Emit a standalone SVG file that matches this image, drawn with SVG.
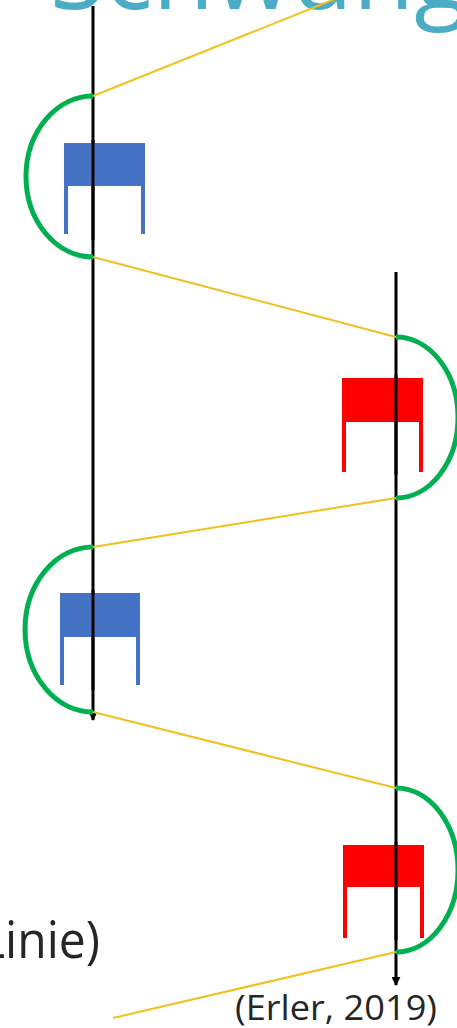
<svg xmlns="http://www.w3.org/2000/svg" width="457" height="1028" viewBox="0 0 457 1028">
<defs>
<style>
.pole{stroke:#000;stroke-width:3;fill:none}
.arc{stroke:#00b050;stroke-width:5;fill:none}
.path{stroke:#f2c01e;stroke-width:2;fill:none}
.blue{fill:#4472c4}
.red{fill:#ff0000}
.txt{font-family:"Open Sans","Liberation Sans",sans-serif;fill:#262626}
</style>
<marker id="ah" viewBox="0 0 10 10" refX="9" refY="5" markerWidth="3" markerHeight="3" orient="auto">
<path d="M0,0 L10,5 L0,10 z" fill="#000"/>
</marker>
</defs>
<rect width="457" height="1028" fill="#fff"/>
<text x="50" y="9" font-family="'Open Sans','Liberation Sans',sans-serif" font-size="100" fill="#4bacc6">Schwung</text>
<g id="poles">
<line class="pole" x1="93" y1="6" x2="93" y2="720" marker-end="url(#ah)"/>
<line class="pole" x1="396" y1="272" x2="396" y2="985" marker-end="url(#ah)"/>
</g>
<g id="arcs">
<path class="arc" d="M93,96 A67,80.5 0 0 0 93,257"/>
<path class="arc" d="M396,337 A62,80.5 0 0 1 396,498"/>
<path class="arc" d="M93,547 A68,82.5 0 0 0 93,712"/>
<path class="arc" d="M396,788 A62,82 0 0 1 396,952"/>
</g>
<g id="connectors">
<line class="path" x1="93" y1="96" x2="345" y2="-5"/>
<line class="path" x1="93" y1="257" x2="396" y2="337"/>
<line class="path" x1="396" y1="498" x2="93" y2="547"/>
<line class="path" x1="93" y1="712" x2="396" y2="788"/>
<line class="path" x1="396" y1="952" x2="113" y2="1018"/>
</g>
<g id="gate1">
<rect class="blue" x="64" y="143" width="81" height="43"/>
<rect class="blue" x="64" y="186" width="4" height="48"/>
<rect class="blue" x="141" y="186" width="4" height="48"/>
</g>
<g id="gate2">
<rect class="red" x="342" y="378" width="81" height="44"/>
<rect class="red" x="342" y="422" width="4" height="50"/>
<rect class="red" x="419" y="422" width="4" height="50"/>
</g>
<g id="gate3">
<rect class="blue" x="60" y="593" width="80" height="44"/>
<rect class="blue" x="60" y="637" width="4" height="48"/>
<rect class="blue" x="136" y="637" width="4" height="48"/>
</g>
<g id="gate4">
<rect class="red" x="343" y="845" width="81" height="42"/>
<rect class="red" x="343" y="887" width="4" height="51"/>
<rect class="red" x="420" y="887" width="4" height="51"/>
</g>
<g id="pole-overlay">
<line class="pole" x1="93" y1="140" x2="93" y2="240"/>
<line class="pole" x1="396" y1="375" x2="396" y2="475"/>
<line class="pole" x1="93" y1="590" x2="93" y2="690"/>
<line class="pole" x1="396" y1="842" x2="396" y2="940"/>
</g>
<text class="txt" x="-20" y="958" font-size="52" textLength="120" lengthAdjust="spacingAndGlyphs">Linie)</text>
<text class="txt" x="235" y="1020" font-size="35" textLength="202" lengthAdjust="spacingAndGlyphs">(Erler, 2019)</text>
</svg>
